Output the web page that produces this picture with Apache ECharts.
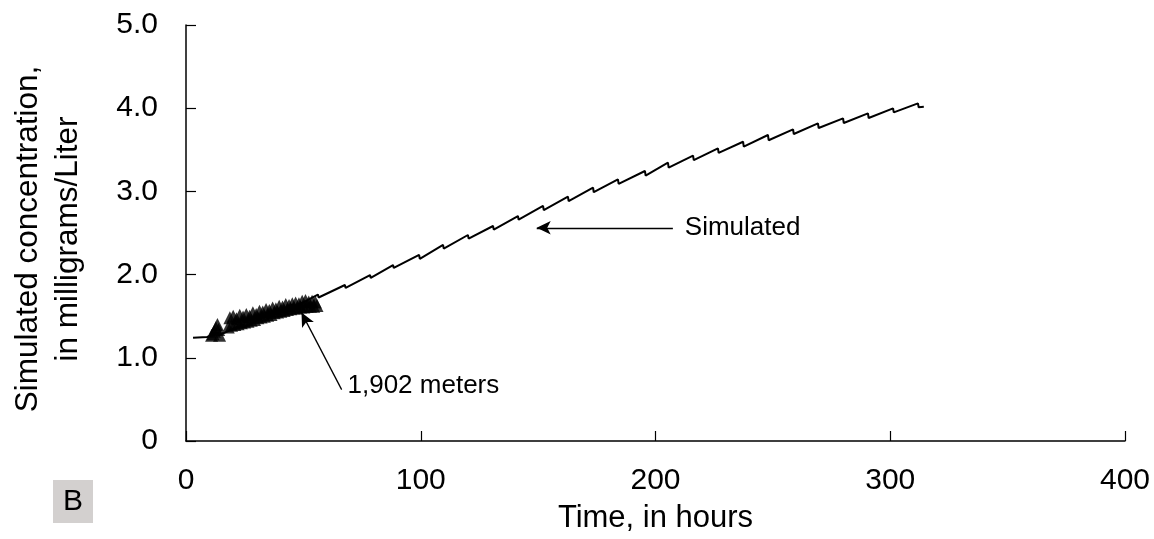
<!DOCTYPE html>
<html>
<head>
<meta charset="utf-8">
<script src="https://cdn.jsdelivr.net/npm/echarts@6/dist/echarts.min.js"></script>
<style>
html,body{margin:0;padding:0;background:#fff;}
#chart{width:1154px;height:539px;}
</style>
</head>
<body>
<div id="chart"></div>
<script>
// Simulated concentration (hours, mg/L)
var simTime = [3, 9, 13.6, 13.9, 24.3, 24.6, 34.9, 35.2, 45.6, 45.9, 56.2, 56.5, 67.7, 68.0, 78.4, 78.7,
  88.2, 88.5, 99.3, 99.6, 109.5, 109.8, 120.1, 120.4, 130.8, 131.1, 141.4, 141.7, 152.1, 152.4,
  162.7, 163.0, 173.4, 173.7, 184.0, 184.3, 195.5, 195.8, 205.3, 205.6, 216.0, 216.3, 226.6, 226.9,
  237.3, 237.6, 247.9, 248.2, 258.6, 258.9, 269.2, 269.5, 279.9, 280.2, 290.5, 290.8, 301.2, 301.5,
  311.8, 312.1, 314.3];
var simConc = [1.24, 1.25, 1.30, 1.27, 1.40, 1.365, 1.52, 1.485, 1.64, 1.605, 1.76, 1.725, 1.875, 1.84, 1.995, 1.96,
  2.115, 2.08, 2.236, 2.19, 2.356, 2.312, 2.476, 2.432, 2.584, 2.54, 2.704, 2.66, 2.825, 2.775,
  2.936, 2.882, 3.044, 2.99, 3.145, 3.09, 3.245, 3.19, 3.345, 3.285, 3.429, 3.375, 3.518, 3.462,
  3.597, 3.537, 3.678, 3.615, 3.746, 3.69, 3.818, 3.762, 3.878, 3.822, 3.938, 3.882, 3.998, 3.95,
  4.058, 4.012, 4.018];

// Observed concentration at 1,902 meters (hours, mg/L)
var obsTime = [10.9, 11.5, 12.1, 12.7, 13.4, 13.9, 14.3,
  18.0, 18.7, 19.4, 20.1, 20.8, 21.5, 22.2, 22.9, 23.6, 24.3, 25.0, 25.7, 26.4, 27.1, 27.8, 28.5,
  29.2, 29.9, 30.6, 31.3, 32.0, 32.7, 33.4, 34.1, 34.8, 35.5, 36.2, 36.9, 37.6, 38.3, 39.0, 39.7,
  40.4, 41.1, 41.8, 42.5, 43.2, 43.9, 44.6, 45.3, 46.0, 46.7, 47.4, 48.1, 48.8, 49.5, 50.2, 50.9,
  51.6, 52.3, 53.0, 53.7, 54.4, 55.1, 55.8];
var obsConc = [1.27, 1.29, 1.32, 1.36, 1.40, 1.34, 1.27,
  1.37, 1.48, 1.39, 1.50, 1.40, 1.47, 1.41, 1.51, 1.42, 1.49, 1.43, 1.52, 1.44, 1.50, 1.45, 1.54,
  1.46, 1.52, 1.48, 1.56, 1.49, 1.55, 1.50, 1.58, 1.51, 1.57, 1.52, 1.60, 1.54, 1.59, 1.55, 1.62,
  1.56, 1.61, 1.57, 1.64, 1.58, 1.63, 1.59, 1.65, 1.60, 1.66, 1.60, 1.65, 1.61, 1.68, 1.61, 1.69,
  1.62, 1.67, 1.62, 1.68, 1.62, 1.67, 1.63];

var xTicks = [0, 100, 200, 300, 400];
var yTicks = [0, 1, 2, 3, 4, 5];

// Annotations (data coordinates)
var simArrow = {from: [207.4, 2.563], to: [149.4, 2.563], text: 'Simulated', textAt: [212.5, 2.563]};
var obsArrow = {from: [66.3, 0.618], to: [49.2, 1.543], text: '1,902 meters', textAt: [68.8, 0.666]};

var FONT = 'Liberation Sans, Arial, Helvetica, sans-serif';

var simData = simTime.map(function (t, i) { return [t, simConc[i]]; });
var obsData = obsTime.map(function (t, i) { return [t, obsConc[i]]; });

var chart = echarts.init(document.getElementById('chart'), null, {renderer: 'canvas'});

var option = {
  animation: false,
  backgroundColor: '#ffffff',
  grid: {left: 186, right: 29, top: 25, bottom: 98, containLabel: false, outerBoundsMode: 'none'},
  xAxis: {
    type: 'value',
    min: xTicks[0], max: xTicks[xTicks.length - 1], interval: 100,
    name: 'Time, in hours',
    nameLocation: 'middle',
    nameGap: 62,
    nameTextStyle: {fontFamily: FONT, fontSize: 31, color: '#000'},
    axisLine: {show: true, onZero: false, lineStyle: {color: '#000', width: 1.5}},
    axisTick: {show: true, inside: true, length: 10, lineStyle: {color: '#000', width: 1.2}},
    axisLabel: {fontFamily: FONT, fontSize: 30, color: '#000', margin: 25},
    splitLine: {show: false}
  },
  yAxis: {
    type: 'value',
    min: yTicks[0], max: yTicks[yTicks.length - 1], interval: 1,
    name: 'Simulated concentration,\nin milligrams/Liter',
    nameLocation: 'middle',
    nameGap: 98,
    nameTextStyle: {fontFamily: FONT, fontSize: 31.5, color: '#000', lineHeight: 40, padding: [0, 12, 0, 0]},
    axisLine: {show: true, onZero: false, lineStyle: {color: '#000', width: 1.5}},
    axisTick: {show: true, inside: true, length: 10, lineStyle: {color: '#000', width: 1.2}},
    axisLabel: {fontFamily: FONT, fontSize: 30, color: '#000', margin: 28,
      formatter: function (v) { return v === 0 ? '0' : v.toFixed(1); }},
    splitLine: {show: false}
  },
  series: [
    {
      name: 'Simulated',
      type: 'line',
      data: simData,
      showSymbol: false,
      symbol: 'none',
      lineStyle: {color: '#000', width: 2},
      z: 2,
      silent: true,
      markLine: {
        silent: true,
        symbol: ['none', 'arrow'],
        symbolSize: [10, 14],
        label: {show: false},
        lineStyle: {color: '#000', width: 1.3, type: 'solid'},
        emphasis: {disabled: true},
        data: [
          [{coord: simArrow.from}, {coord: simArrow.to}],
          [{coord: obsArrow.from}, {coord: obsArrow.to}]
        ]
      }
    },
    {
      name: '1,902 meters',
      type: 'scatter',
      data: obsData,
      symbol: 'triangle',
      symbolSize: [13, 13],
      itemStyle: {color: '#000'},
      z: 3,
      silent: true
    }
  ]
};
chart.setOption(option);

function placeTexts() {
  var p1 = chart.convertToPixel({gridIndex: 0}, simArrow.textAt);
  var p2 = chart.convertToPixel({gridIndex: 0}, obsArrow.textAt);
  chart.setOption({
    graphic: [
      {type: 'text', x: p1[0], y: p1[1], silent: true,
        style: {text: simArrow.text, font: '26px ' + FONT, fill: '#000', textAlign: 'left', textVerticalAlign: 'middle'}},
      {type: 'text', x: p2[0], y: p2[1], silent: true,
        style: {text: obsArrow.text, font: '26px ' + FONT, fill: '#000', textAlign: 'left', textVerticalAlign: 'middle'}},
      {type: 'rect', left: 53, top: 480, silent: true, shape: {width: 40, height: 43}, style: {fill: '#d3d0cf'}},
      {type: 'text', x: 73, y: 502, silent: true,
        style: {text: 'B', font: '30px ' + FONT, fill: '#000', textAlign: 'center', textVerticalAlign: 'middle'}}
    ]
  });
}
placeTexts();
</script>
</body>
</html>
